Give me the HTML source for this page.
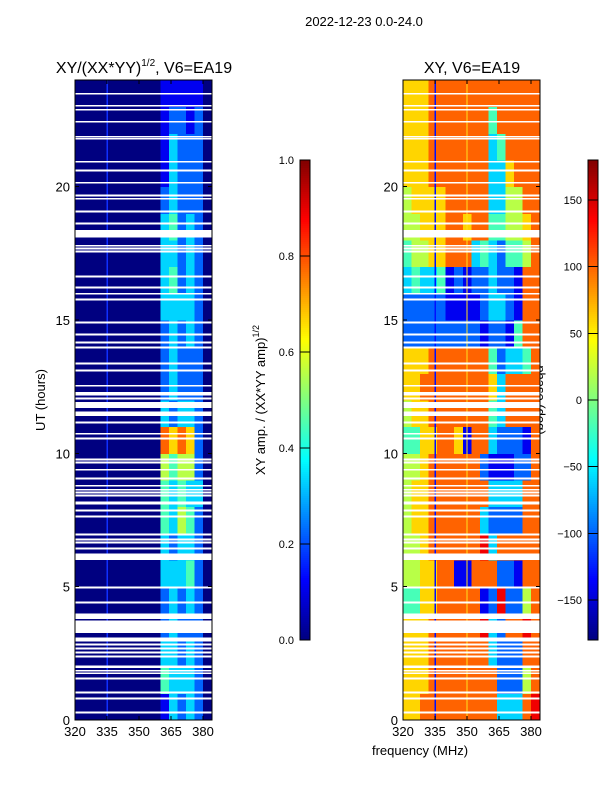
<!DOCTYPE html>
<html><head><meta charset="utf-8">
<style>
body{margin:0;background:#fff;}
svg text{font-family:"Liberation Sans","DejaVu Sans",sans-serif;fill:#000;}
</style></head>
<body>
<svg id="fig" width="600" height="800" xmlns="http://www.w3.org/2000/svg" shape-rendering="crispEdges">
<rect width="600" height="800" fill="#fff"/>
<text x="364" y="26" font-size="13" text-anchor="middle">2022-12-23 0.0-24.0</text>
<text x="144" y="73" font-size="16" text-anchor="middle">XY/(XX*YY)<tspan font-size="10" dy="-7">1/2</tspan><tspan dy="7">, V6=EA19</tspan></text>
<text x="472" y="73" font-size="16" text-anchor="middle">XY, V6=EA19</text>
<text transform="translate(45,400) rotate(-90)" font-size="13" text-anchor="middle">UT (hours)</text>
<text x="420" y="755" font-size="13" text-anchor="middle">frequency (MHz)</text>
<text transform="translate(265,400) rotate(-90)" font-size="13" text-anchor="middle">XY amp. / (XX*YY amp)<tspan font-size="9" dy="-6">1/2</tspan></text>
<text transform="translate(536,400) rotate(90)" font-size="13" text-anchor="middle">phase (deg)</text>
<g id="left"></g>
<g id="right"></g>
<g id="axes"></g>
</svg>
<script>
// frequency bins (MHz, left edges, 4 MHz width) and hours (rows, 0..23)
const freqStarts = [320,324,328,332,336,340,344,348,352,356,360,364,368,372,376,380];
const hours = [0,1,2,3,4,5,6,7,8,9,10,11,12,13,14,15,16,17,18,19,20,21,22,23];
// amplitude digits 0-9 -> value d/9, row index = hour
const ampRows = [
"0000000000132320","0000000000433320","0000000000332320","0000000000232220",
"0000000000232320","0000000000333420","0000000000323320","0000000000435420",
"0000000000434330","0000000000545520","0000000000767620","0000000000323320",
"0000000000232220","0000000000232220","0000000000232320","0000000000333320",
"0000000000342320","0000000000332320","0000000000342320","0000000000232220",
"0000000000132220","0000000000132220","0000000000122120","0000000000111110"];
// phase digits 0-9 -> -180 + d*40 deg
const phaseRows = [
"6677777777733378","6667777777722257","6667777777322277","6667777778327787",
"4466777771282257","5566771177722177","5567777778377777","5667777773222277",
"5667777777333377","5567777772111227","4466776177322217","5667777777437777",
"6677777777637777","6667777777423347","2222222221221477","2222211112332177",
"3433412122322177","4556677734324457","5566677677445567","5666677777335577",
"6667777777336777","6667777777347777","6667777777477777","6667777777777777"];
// flagged (white) time ranges, hours
const gapStarts = [0.24,0.77,0.99,1.52,1.74,1.82,1.95,2.34,2.49,2.64,2.79,2.95,3.26,3.79,4.37,4.93,6.0,6.4,6.62,6.73,6.92,7.59,7.82,8.08,8.38,8.49,8.6,8.75,9.02,9.35,9.62,9.73,10.52,10.7,11.12,11.4,11.7,12.02,12.17,12.5,13.07,13.33,13.93,14.12,14.42,14.87,15.73,15.95,16.18,16.59,17.53,17.64,17.75,18.1,18.58,19.03,19.51,19.63,20.11,20.57,20.9,21.76,21.84,22.4,22.85,23.0,23.45];
const gapEnds   = [0.31,0.84,1.06,1.59,1.79,1.87,2.04,2.41,2.56,2.71,2.86,3.09,3.73,3.99,4.44,5.0,6.24,6.47,6.69,6.8,6.99,7.66,7.89,8.2,8.45,8.56,8.67,8.82,9.09,9.42,9.69,9.8,10.59,10.77,11.19,11.57,11.92,12.09,12.3,12.57,13.14,13.4,14.0,14.19,14.49,14.94,15.8,16.02,16.25,16.66,17.6,17.71,17.82,18.37,18.65,19.1,19.58,19.7,20.18,20.64,20.97,21.83,21.9,22.47,22.92,23.07,23.52];
const xTicks = [320,335,350,365,380];
const yTicks = [0,5,10,15,20];
const ampTicks = [0.0,0.2,0.4,0.6,0.8,1.0];
const phaseTicks = [-150,-100,-50,0,50,100,150];

const NS="http://www.w3.org/2000/svg";
const svg=document.getElementById('fig');
function mk(tag,attrs,parent){const e=document.createElementNS(NS,tag);for(const k in attrs)e.setAttribute(k,attrs[k]);(parent||svg).appendChild(e);return e;}
function jet(v){v=Math.max(0,Math.min(1,v));
 const r=Math.max(0,Math.min(1,1.5-Math.abs(4*v-3))),g=Math.max(0,Math.min(1,1.5-Math.abs(4*v-2))),b=Math.max(0,Math.min(1,1.5-Math.abs(4*v-1)));
 return `rgb(${Math.round(r*255)},${Math.round(g*255)},${Math.round(b*255)})`;}
const Y0=720,Y1=80;
function yS(h){return Y0-(h/24)*(Y0-Y1);}
function xS(px0,f){return px0+(f-320)*(137/64.2);}
const panels=[{id:'left',x0:75,rows:ampRows,val:d=>d/9,name:'amp-cell'},
              {id:'right',x0:403,rows:phaseRows,val:d=>((-180+d*40)+180)/360,name:'phase-cell'}];
panels.forEach(p=>{
 const g=document.getElementById(p.id);
 hours.forEach((h,ri)=>{
  freqStarts.forEach((f,ci)=>{
   const d=+p.rows[ri][ci];
   const x=xS(p.x0,f),x2=xS(p.x0,f+4);
   const r=mk('rect',{x:x,y:yS(h+1),width:Math.min(x2,p.x0+137)-x+0.5,height:yS(h)-yS(h+1)+0.5,fill:jet(p.val(d))},g);
   
   
  });
 });
 const l=mk('rect',{x:xS(p.x0,335)-0.5,y:Y1,width:1.5,height:Y0-Y1,fill:p.id==='left'?'#1030ff':'#0010ff'},g);
 
 
 if(p.id==='right'){const l2=mk('rect',{x:xS(p.x0,350)-0.5,y:Y1,width:1.2,height:Y0-Y1,fill:'#ffe020'},g);
  
  }
 gapStarts.forEach((s,i)=>{
  const gr=mk('rect',{x:p.x0,y:yS(gapEnds[i]),width:137,height:Math.max(1.5,yS(s)-yS(gapEnds[i])),fill:'#fff'},g);
  
  
 });
 const ax=document.getElementById('axes');
 const fr=mk('rect',{x:p.x0,y:Y1,width:137,height:Y0-Y1,fill:'none',stroke:'#000','stroke-width':1},ax);
 
 
 xTicks.forEach(t=>{const x=xS(p.x0,t);
  mk('line',{x1:x,x2:x,y1:Y0,y2:Y0-4,stroke:'#000'},ax);mk('line',{x1:x,x2:x,y1:Y1,y2:Y1+4,stroke:'#000'},ax);
  const tx=mk('text',{x:x,y:Y0+16,'font-size':13,'text-anchor':'middle'},ax);tx.textContent=t;
  
  });
 yTicks.forEach(t=>{const y=yS(t);
  mk('line',{x1:p.x0,x2:p.x0+4,y1:y,y2:y,stroke:'#000'},ax);mk('line',{x1:p.x0+137,x2:p.x0+133,y1:y,y2:y,stroke:'#000'},ax);
  const tx=mk('text',{x:p.x0-5,y:y+5,'font-size':13,'text-anchor':'end'},ax);tx.textContent=t;
  
  });
});
const bars=[{x:300,ticks:ampTicks,norm:v=>v,fmt:v=>v.toFixed(1),name:'amp-colorbar'},
            {x:588,ticks:phaseTicks,norm:v=>(v+180)/360,fmt:v=>v<0?'\u2212'+(-v):''+v,name:'phase-colorbar'}];
bars.forEach(b=>{
 const g=mk('g',{});
 
 
 for(let i=0;i<240;i++){mk('rect',{x:b.x,y:160+i*2,width:10,height:2.5,fill:jet(1-(i+0.5)/240)},g);}
 mk('rect',{x:b.x,y:160,width:10,height:480,fill:'none',stroke:'#000'},g);
 b.ticks.forEach(t=>{const y=640-b.norm(t)*480;
  mk('line',{x1:b.x,x2:b.x+10,y1:y,y2:y,stroke:'#000'},g);
  const tx=mk('text',{x:b.x-6,y:y+4,'font-size':11,'text-anchor':'end'},g);tx.textContent=b.fmt(t);
  
  });
});
</script>
</body></html>
